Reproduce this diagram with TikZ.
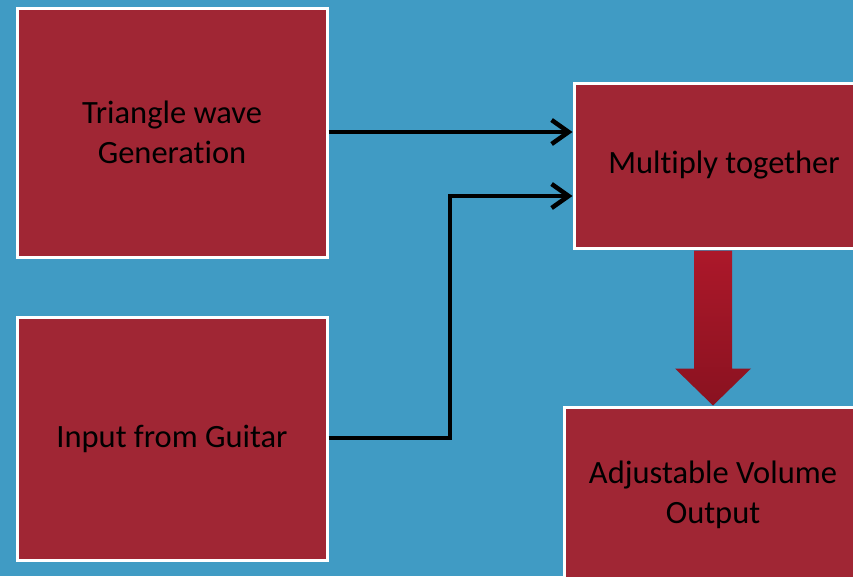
\documentclass[tikz,border=0pt]{standalone}
\usepackage{fontspec}
\setmainfont[Ligatures=NoCommon]{Carlito}
\usepackage{tikz}
\usetikzlibrary{arrows.meta,positioning,calc}
\definecolor{BGblue}{RGB}{64,155,196}
\definecolor{BoxRed}{RGB}{160,38,52}
\definecolor{ArrTop}{RGB}{172,24,42}
\definecolor{ArrBot}{RGB}{138,18,32}

\begin{document}
\begin{tikzpicture}[x=1pt,y=-1pt, every node/.style={font=\fontsize{32.5}{40}\selectfont}, b/.style={draw=white,line width=3pt,fill=BoxRed,text=black,align=center,inner sep=0pt}, a/.style={-{Straight Barb[length=17pt,width=24pt,line width=4.5pt]},line width=4.5pt,black}]
\fill[BGblue] (0,0) rectangle (853,576);
\clip (0,0) rectangle (853,576);
\node[b,minimum width=310pt,minimum height=249pt] (tri) at (172,132.5) {Triangle wave\\Generation};
\node[b,minimum width=310pt,minimum height=243pt] (gtr) at (172,438.5) {Input from Guitar};
\node[b,minimum width=300pt,minimum height=165pt] (mul) at (724,165.5) {Multiply together};
\node[b,minimum width=298pt,minimum height=176pt] (out) at (713,495) {Adjustable Volume\\Output};
\draw[a] (tri.east |- 0,132) -- (mul.west |- 0,132);
\draw[a] (gtr.east |- 0,438) -| (450,196) -- (mul.west |- 0,196);
\coordinate (top) at (out.north |- mul.south);
\shade[top color=ArrTop,bottom color=ArrBot] ($(top)+(-19,1)$) -- ($(top)+(19,1)$) -- ($(out.north)+(19,-37)$) -- ($(out.north)+(38,-37)$) -- (out.north) -- ($(out.north)+(-38,-37)$) -- ($(out.north)+(-19,-37)$) -- cycle;
\end{tikzpicture}
\end{document}
